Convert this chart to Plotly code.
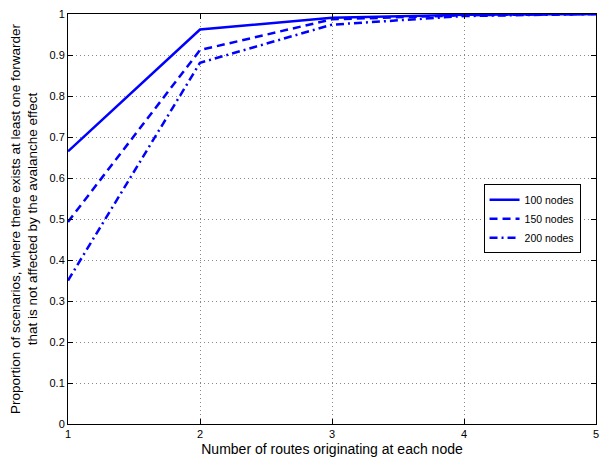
import plotly.graph_objects as go

routes = [1, 2, 3, 4, 5]
nodes100 = [0.665, 0.962, 0.991, 0.998, 1.0]
nodes150 = [0.493, 0.912, 0.987, 0.997, 1.0]
nodes200 = [0.350, 0.881, 0.974, 0.995, 1.0]
names = ["100 nodes", "150 nodes", "200 nodes"]
dashes = ["solid", "8px,5px", "8px,4px,2px,4px"]

fig = go.Figure()
for ys, nm, ds in zip([nodes100, nodes150, nodes200], names, dashes):
    fig.add_trace(go.Scatter(x=routes, y=ys, mode="lines", name=nm,
                             line=dict(color="#0000ff", width=2.5, dash=ds)))

axis_common = dict(showline=True, linecolor="black", linewidth=1, mirror="ticks",
                   ticks="inside", ticklen=5, tickcolor="black",
                   showgrid=True, gridcolor="#888888", griddash="1px,3px", gridwidth=1,
                   zeroline=False, tickfont=dict(size=11, color="black"),
                   ticklabeloverflow="allow")

fig.update_layout(
    width=600, height=457,
    margin=dict(l=68, r=1, t=14, b=30),
    paper_bgcolor="white", plot_bgcolor="white",
    font=dict(family="Liberation Sans, Arial, sans-serif", color="black"),
    xaxis=dict(range=[1, 5], dtick=1, tick0=1,
               title=dict(text="Number of routes originating at each node", font=dict(size=14), standoff=6),
               **axis_common),
    yaxis=dict(range=[0, 1], dtick=0.1, tick0=0,
               title=dict(text="Proportion of scenarios, where there exists at least one forwarder<br>that is not affected by the avalanche effect",
                          font=dict(size=13.5), standoff=8),
               **axis_common),
    legend=dict(x=0.787, y=0.585, xanchor="left", yanchor="top",
                bgcolor="white", bordercolor="black", borderwidth=1,
                font=dict(size=10.5), tracegroupgap=0, itemwidth=30),
    showlegend=True,
)

fig.write_html("out.html")
